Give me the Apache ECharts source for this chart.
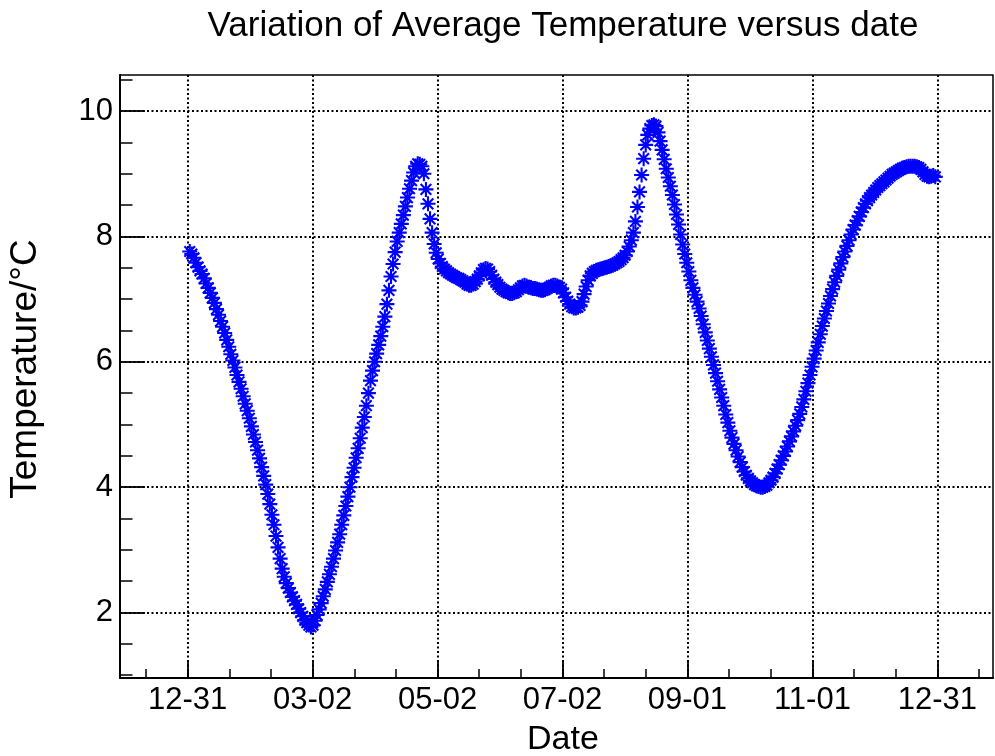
<!DOCTYPE html>
<html>
<head>
<meta charset="utf-8">
<script src="https://cdn.jsdelivr.net/npm/echarts@6/dist/echarts.min.js"></script>
<style>
html,body{margin:0;padding:0;background:#fff;}
#chart{width:995px;height:756px;}
</style>
</head>
<body>
<div id="chart"></div>
<script>
// Day offsets are counted from 12-31 (day 0); one value per day, day 1 .. day 364
const startDay = 1;
const temperature = [
7.76,7.72,7.66,7.58,7.51,7.45,7.40,7.33,7.25,7.18,
7.10,7.02,6.94,6.84,6.75,6.65,6.56,6.46,6.35,6.24,
6.12,6.02,5.91,5.79,5.68,5.57,5.45,5.33,5.22,5.10,
4.97,4.84,4.72,4.59,4.46,4.32,4.18,4.04,3.89,3.73,
3.56,3.40,3.22,3.04,2.86,2.70,2.57,2.47,2.39,2.32,
2.25,2.19,2.13,2.06,2.00,1.94,1.88,1.84,1.80,1.77,
1.80,1.87,1.96,2.05,2.15,2.26,2.37,2.49,2.61,2.73,
2.86,2.99,3.12,3.25,3.40,3.55,3.70,3.85,4.00,4.16,
4.31,4.47,4.62,4.78,4.95,5.12,5.30,5.50,5.70,5.86,
6.00,6.13,6.27,6.41,6.56,6.72,6.92,7.14,7.36,7.56,
7.75,7.92,8.06,8.20,8.34,8.48,8.62,8.76,8.89,9.02,
9.12,9.16,9.15,9.12,9.00,8.75,8.52,8.28,8.06,7.88,
7.74,7.64,7.57,7.52,7.48,7.45,7.42,7.40,7.38,7.36,
7.34,7.33,7.31,7.29,7.27,7.24,7.22,7.22,7.24,7.28,
7.32,7.37,7.42,7.47,7.49,7.48,7.44,7.38,7.32,7.27,
7.23,7.19,7.16,7.14,7.12,7.10,7.09,7.09,7.10,7.12,
7.15,7.18,7.21,7.22,7.21,7.19,7.18,7.17,7.17,7.16,
7.15,7.14,7.14,7.15,7.17,7.19,7.21,7.22,7.22,7.21,
7.19,7.16,7.10,7.03,6.97,6.92,6.88,6.86,6.86,6.87,
6.90,6.96,7.08,7.20,7.30,7.37,7.41,7.44,7.46,7.47,
7.48,7.49,7.50,7.51,7.52,7.53,7.54,7.56,7.58,7.60,
7.63,7.66,7.70,7.76,7.84,7.94,8.06,8.24,8.47,8.71,
8.98,9.24,9.46,9.62,9.72,9.77,9.78,9.76,9.66,9.52,
9.38,9.23,9.08,8.94,8.80,8.66,8.51,8.35,8.19,8.03,
7.87,7.72,7.58,7.44,7.30,7.18,7.07,6.96,6.85,6.73,
6.60,6.47,6.34,6.21,6.08,5.95,5.82,5.69,5.56,5.43,
5.30,5.16,5.03,4.90,4.79,4.69,4.59,4.49,4.40,4.32,
4.25,4.19,4.14,4.10,4.07,4.04,4.02,4.01,4.00,4.00,
4.01,4.03,4.07,4.11,4.16,4.22,4.29,4.36,4.43,4.50,
4.57,4.65,4.73,4.81,4.89,4.98,5.07,5.17,5.28,5.40,
5.53,5.66,5.79,5.92,6.05,6.18,6.31,6.44,6.57,6.69,
6.81,6.93,7.05,7.16,7.27,7.37,7.47,7.57,7.67,7.76,
7.85,7.94,8.03,8.11,8.18,8.25,8.32,8.39,8.46,8.52,
8.57,8.62,8.66,8.70,8.74,8.78,8.81,8.84,8.87,8.90,
8.93,8.96,8.99,9.01,9.03,9.05,9.07,9.09,9.10,9.11,
9.12,9.12,9.12,9.12,9.11,9.10,9.07,9.03,8.99,8.96,
8.95,8.96,8.97,8.95
];
const xTickLabels = ["12-31","03-02","05-02","07-02","09-01","11-01","12-31"];
const xTickStep = 365 / 6;           // days between labelled ticks
const yMajorTicks = [2, 4, 6, 8, 10];
const yMinorTicks = [1, 1.5, 2.5, 3, 3.5, 4.5, 5, 5.5, 6.5, 7, 7.5, 8.5, 9, 9.5, 10.5];
const titleText = "Variation of Average Temperature versus date";
const xTitle = "Date";
const yTitle = "Temperature/\u00B0C";

const points = temperature.map((v, i) => [startDay + i, v]);
const xMajorVals = xTickLabels.map((_, i) => i * xTickStep);
const xMinorVals = [];
for (let k = -1; k <= 19; k++) xMinorVals.push(k * xTickStep / 3);

const FONT = "'Liberation Sans', Arial, Helvetica, sans-serif";
const asterisk = 'path://M0 8.6H20V11.4H0Z M8.6 0H11.4V20H8.6Z M1.9 3.9L3.9 1.9L18.1 16.1L16.1 18.1Z M16.1 1.9L18.1 3.9L3.9 18.1L1.9 16.1Z';

const xMin = -32.96, xMax = 392.1, yMin = 0.956, yMax = 10.575;

const chart = echarts.init(document.getElementById('chart'), null, {renderer: 'canvas'});
chart.setOption({
  backgroundColor: '#fff',
  animation: false,
  title: {
    text: titleText, left: 558, top: 4, textAlign: 'center',
    textStyle: {fontFamily: FONT, fontSize: 35, fontWeight: 'normal', color: '#000'}
  },
  grid: {left: 120, top: 75, right: 2, bottom: 78, show: true, borderColor: '#000', borderWidth: 1.5, backgroundColor: 'transparent'},
  xAxis: [{
    type: 'value', min: xMin, max: xMax, position: 'bottom',
    axisLine: {show: true, onZero: false, lineStyle: {color: '#000', width: 2}},
    axisTick: {show: true, inside: true, length: 18, customValues: xMajorVals, lineStyle: {color: '#000', width: 1.8}},
    axisLabel: {show: true, customValues: xMajorVals, margin: 7, color: '#000', fontFamily: FONT, fontSize: 31,
      formatter: v => xTickLabels[Math.round(v / xTickStep)]},
    splitLine: {show: true, lineStyle: {color: '#000', width: 2, type: [2, 2.5]}}
  }, {
    type: 'value', min: xMin, max: xMax, position: 'bottom',
    axisLine: {show: false, onZero: false},
    axisTick: {show: true, inside: true, length: 9, customValues: xMinorVals, lineStyle: {color: '#000', width: 1.5}},
    axisLabel: {show: false}, splitLine: {show: false}
  }],
  yAxis: [{
    type: 'value', min: yMin, max: yMax, position: 'left',
    axisLine: {show: true, onZero: false, lineStyle: {color: '#000', width: 2}},
    axisTick: {show: true, inside: true, length: 25, customValues: yMajorTicks, lineStyle: {color: '#000', width: 1.8}},
    axisLabel: {show: true, customValues: yMajorTicks, margin: 7, color: '#000', fontFamily: FONT, fontSize: 31},
    splitLine: {show: true, lineStyle: {color: '#000', width: 2, type: [2, 2.5]}}
  }, {
    type: 'value', min: yMin, max: yMax, position: 'left',
    axisLine: {show: false, onZero: false},
    axisTick: {show: true, inside: true, length: 12.5, customValues: yMinorTicks, lineStyle: {color: '#000', width: 1.5}},
    axisLabel: {show: false}, splitLine: {show: false}
  }],
  graphic: [
    {type: 'text', left: 527, top: 723, style: {text: xTitle, font: '34px ' + FONT, fill: '#000'}},
    {type: 'text', x: 26, y: 369, rotation: Math.PI / 2,
      style: {text: yTitle, font: '37px ' + FONT, fill: '#000', textAlign: 'center', textVerticalAlign: 'middle'}}
  ],
  series: [{
    type: 'scatter', xAxisIndex: 0, yAxisIndex: 0,
    data: points, symbol: asterisk, symbolSize: 15,
    itemStyle: {color: '#0000ff', opacity: 1},
    emphasis: {disabled: true}
  }]
});
</script>
</body>
</html>
